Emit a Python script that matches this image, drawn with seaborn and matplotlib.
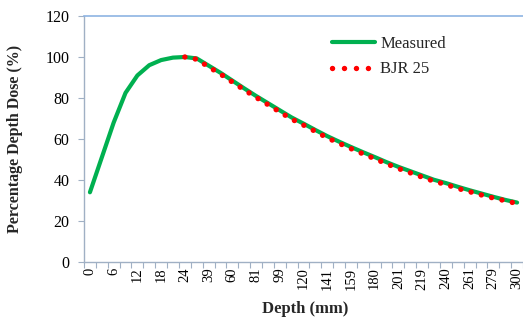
import numpy as np
import pandas as pd
import seaborn as sns
import matplotlib.pyplot as plt

# depth categories (mm) as they appear on the category axis
depth_mm = [0, 3, 6, 9, 12, 15, 18, 21, 24, 30, 39, 50, 60, 70, 81, 90, 99, 110, 120,
            130, 141, 150, 159, 170, 180, 190, 201, 210, 219, 230, 240, 250, 261, 270,
            279, 290, 300]

measured = [34, 51, 68, 82.5, 91, 96, 98.5, 99.7, 100, 99.3, 95.8, 92.3, 88.5, 84.7,
            81.0, 77.5, 74.0, 70.5, 67.5, 64.4, 61.4, 58.7, 56.1, 53.6, 51.2, 48.7,
            46.4, 44.3, 42.2, 40.1, 38.5, 36.7, 35.0, 33.4, 31.8, 30.3, 29.0]

# BJR 25 only from 24 mm onwards
bjr_depth = depth_mm[8:]
bjr25 = [100, 98.9, 95.2, 91.7, 87.8, 84.0, 80.3, 76.8, 73.2, 69.7, 66.8, 63.7, 60.6,
         57.9, 55.3, 52.8, 50.4, 47.9, 45.6, 43.5, 41.4, 39.4, 37.8, 35.9, 34.3, 32.7,
         31.2, 29.9, 28.5]

y_ticks = [0, 20, 40, 60, 80, 100, 120]

sns.set_style("white")
plt.rcParams['font.family'] = ['Liberation Serif', 'DejaVu Serif']

pos = {d: i for i, d in enumerate(depth_mm)}
df_m = pd.DataFrame({'pos': [pos[d] for d in depth_mm], 'pdd': measured})
df_b = pd.DataFrame({'pos': [pos[d] for d in bjr_depth], 'pdd': bjr25})

fig = plt.figure(figsize=(5.23, 3.2), dpi=100)
ax = fig.add_axes([84/523, 58/320, 439/523, 246/320])

sns.lineplot(data=df_m, x='pos', y='pdd', ax=ax, color='#00B050', lw=3.0,
             label='Measured', sort=False)
sns.lineplot(data=df_b, x='pos', y='pdd', ax=ax, color='#FF0000', lw=3.9,
             linestyle=(0, (0.01, 1.95)), dash_capstyle='round',
             label='BJR 25', sort=False)

ax.set_xlim(-0.5, len(depth_mm) - 0.5)
ax.set_ylim(0, 120)

ax.set_xticks(range(0, len(depth_mm), 2))
ax.set_xticklabels([str(d) for d in depth_mm[::2]], rotation=90, fontsize=10.5)
ax.set_xticks(np.arange(-0.5, len(depth_mm), 1), minor=True)
ax.tick_params(axis='x', which='major', length=0, pad=4, colors='black')
ax.tick_params(axis='x', which='minor', length=4, width=0.8, color='#A0B0C4',
               direction='out', bottom=True)

ax.set_yticks(y_ticks)
ax.tick_params(axis='y', length=4, width=0.8, color='#A0B0C4', direction='out',
               left=True, pad=6.5, labelsize=11.5, labelcolor='black')

for s in ['left', 'bottom']:
    ax.spines[s].set_color('#A0B0C4')
    ax.spines[s].set_linewidth(1.0)
ax.spines['top'].set_color('#8EB4E3')
ax.spines['top'].set_linewidth(1.2)
ax.spines['right'].set_visible(False)

ax.set_xlabel('Depth (mm)', fontsize=12, fontweight='bold')
ax.set_ylabel('Percentage Depth Dose (%)', fontsize=11.5, fontweight='bold')
ax.xaxis.set_label_coords(0.503, -0.16)
ax.yaxis.set_label_coords(-0.14, 0.5)

leg = ax.legend(loc='upper left', bbox_to_anchor=(0.565, 0.918), frameon=False,
                fontsize=12, handlelength=2.6, handletextpad=0.3, borderpad=0,
                borderaxespad=0, labelspacing=0.55)
# shorter dotted sample in the legend: four dots
leg.get_lines()[1].set_linestyle((0, (0.01, 2.2)))

fig.savefig('out.png', dpi=100)
